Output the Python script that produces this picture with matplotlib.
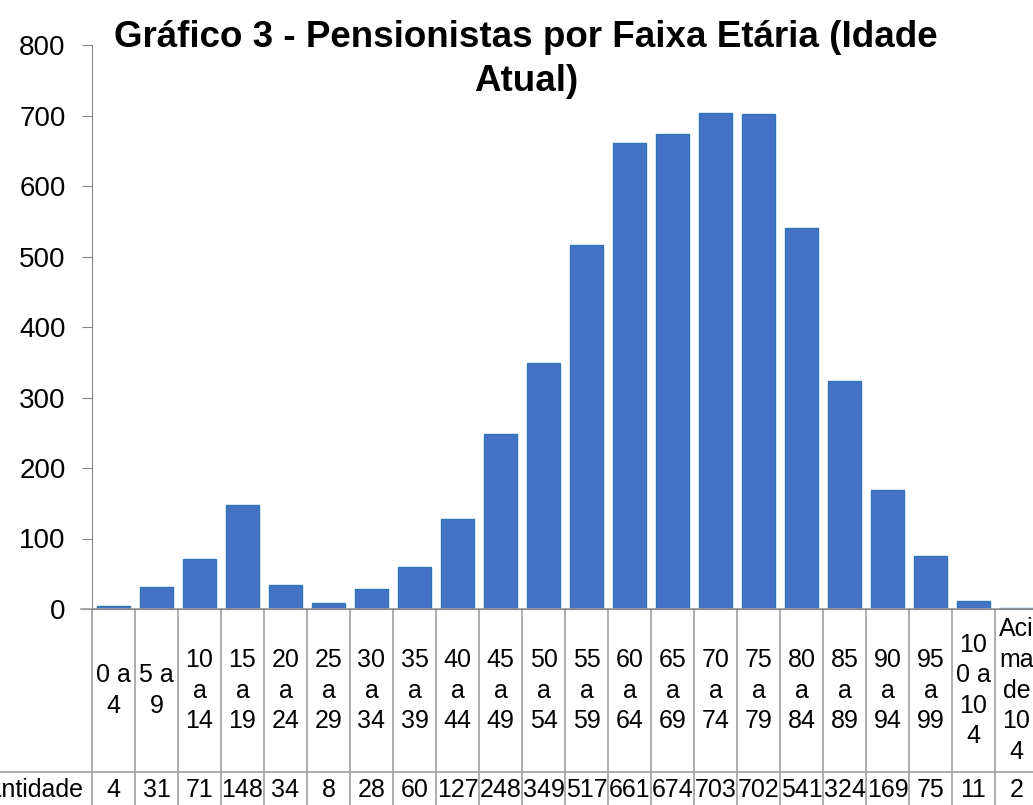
import matplotlib.pyplot as plt
import matplotlib.transforms as mtransforms

plt.rcParams['font.family'] = ['Liberation Sans', 'DejaVu Sans']

# faixas etarias (como aparecem quebradas na tabela do Excel)
faixas = ["0 a\n4", "5 a\n9", "10\na\n14", "15\na\n19", "20\na\n24", "25\na\n29",
          "30\na\n34", "35\na\n39", "40\na\n44", "45\na\n49", "50\na\n54", "55\na\n59",
          "60\na\n64", "65\na\n69", "70\na\n74", "75\na\n79", "80\na\n84", "85\na\n89",
          "90\na\n94", "95\na\n99", "10\n0 a\n10\n4", "Aci\nma\nde\n10\n4"]
quantidade = [4, 31, 71, 148, 34, 8, 28, 60, 127, 248, 349, 517,
              661, 674, 703, 702, 541, 324, 169, 75, 11, 2]
yticks = [0, 100, 200, 300, 400, 500, 600, 700, 800]

W, H = 1033, 805
fig = plt.figure(figsize=(W / 100, H / 100), dpi=100)
left, right, top, bottom = 92, 1038, 45, 609
ax = fig.add_axes([left / W, 1 - bottom / H, (right - left) / W, (bottom - top) / H])

n = len(quantidade)
xs = list(range(n))
ax.bar(xs, quantidade, width=0.77, color="#4472C4", edgecolor="#2E75B6", linewidth=1)
ax.set_xlim(-0.5, n - 0.5)
ax.set_ylim(0, 800)
ax.set_yticks(yticks)
ax.tick_params(axis='y', labelsize=20, length=7, color="#868686", pad=12)
ax.set_xticks([])
for s in ['top', 'right']:
    ax.spines[s].set_visible(False)
ax.spines['left'].set_color("#868686")
ax.spines['bottom'].set_color("#868686")

fig.text(526 / W, 1 - 20 / H, "Gráfico 3 - Pensionistas por Faixa Etária (Idade\nAtual)",
         ha='center', va='top', fontsize=26.5, fontweight='bold', linespacing=1.35)

# tabela de dados abaixo do eixo
trans = mtransforms.blended_transform_factory(ax.transData, ax.transAxes)
hpx = bottom - top
row1 = -(772 - bottom) / hpx
row_end = -(H + 10 - bottom) / hpx
grid = "#A0A0A0"
for i in range(n + 1):
    ax.plot([i - 0.5, i - 0.5], [0, row_end], color=grid, lw=1.2,
            transform=trans, clip_on=False)
ax.plot([-0.5 - 0.25, n - 0.5], [0, 0], color=grid, lw=1.2, transform=trans, clip_on=False)
ax.plot([-3, n - 0.5], [row1, row1], color=grid, lw=1.2, transform=trans, clip_on=False)

for i, (lab, q) in enumerate(zip(faixas, quantidade)):
    ax.text(i, row1 / 2, lab, ha='center', va='center', fontsize=18,
            linespacing=1.35, transform=trans, clip_on=False)
    ax.text(i, -(790 - bottom) / hpx, str(q), ha='center', va='center', fontsize=18,
            transform=trans, clip_on=False)
ax.text(-0.5 - 0.2, -(790 - bottom) / hpx, "Quantidade", ha='right', va='center',
        fontsize=18, transform=trans, clip_on=False)

fig.savefig("out.png", dpi=100)
